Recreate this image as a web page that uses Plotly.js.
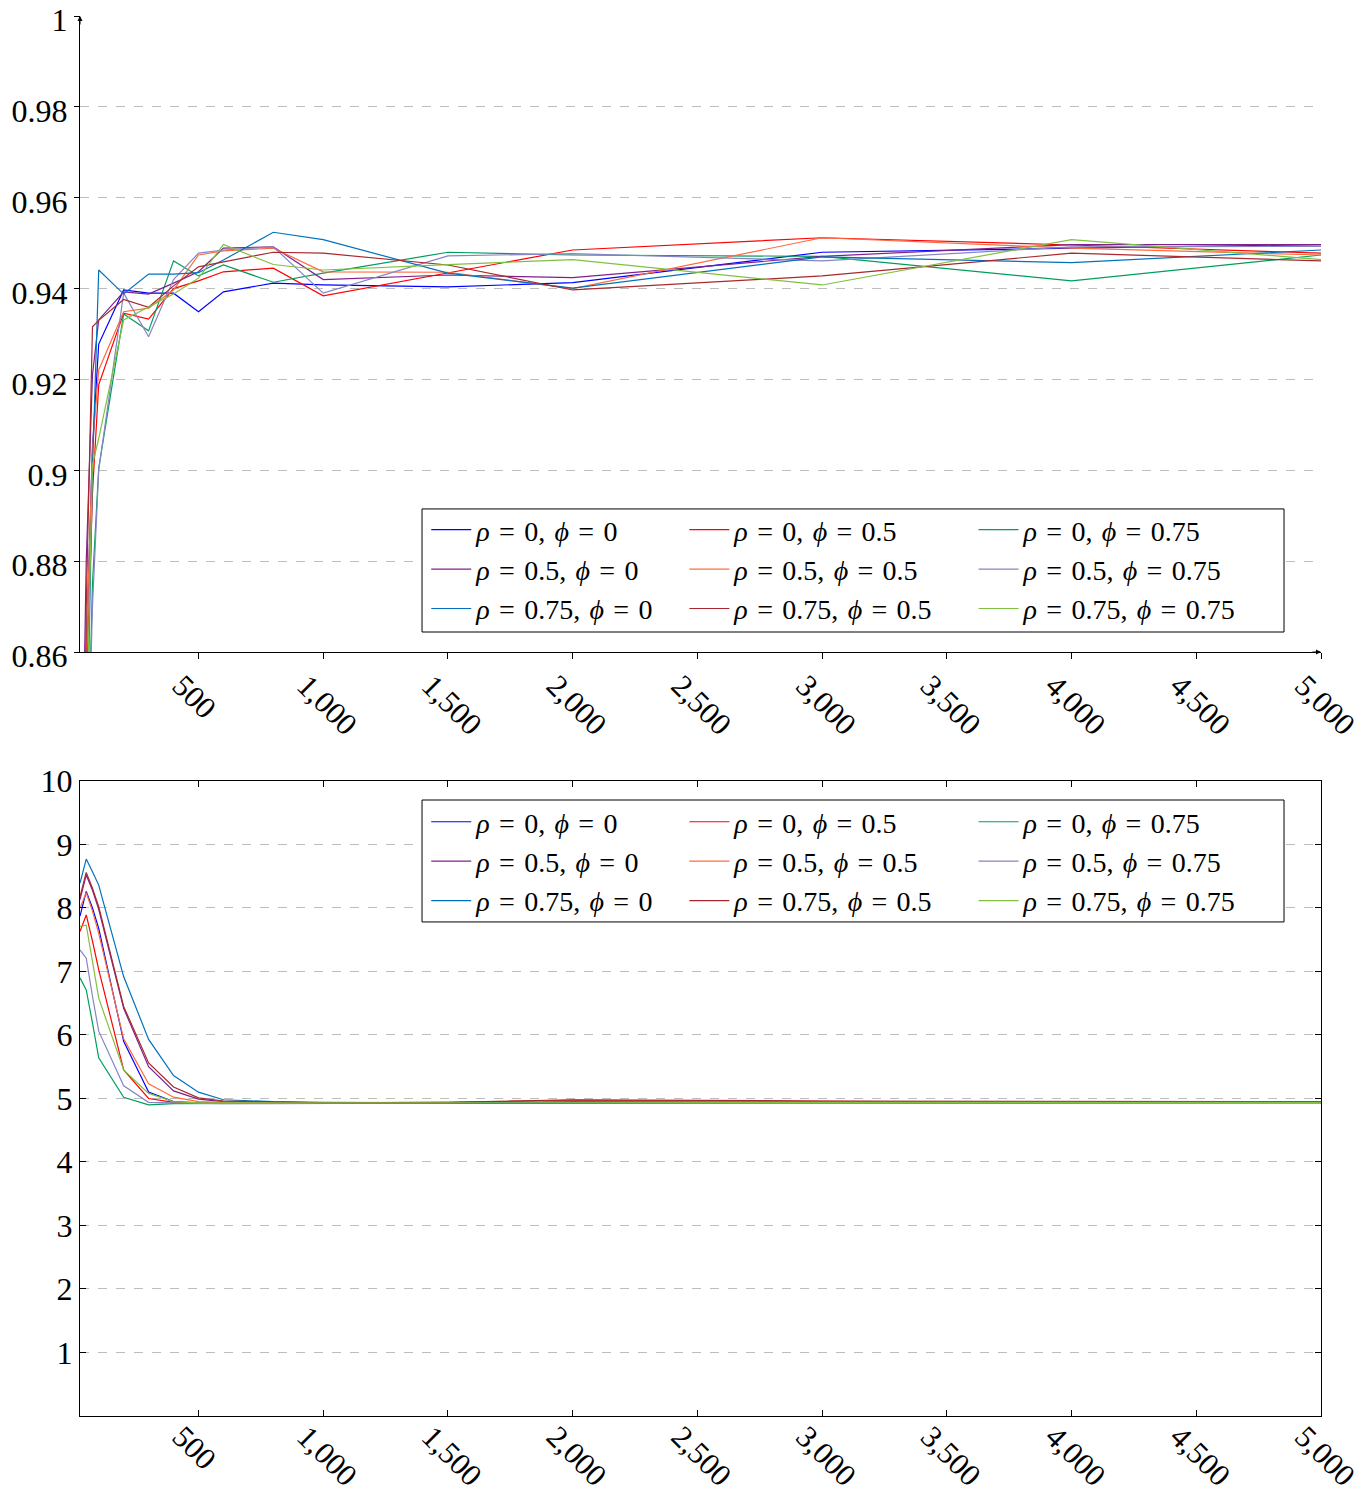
<!DOCTYPE html>
<html><head><meta charset="utf-8">
<script src="https://cdn.plot.ly/plotly-3.0.1.min.js"></script>
<style>body{margin:0;background:#fff}#chart{width:1366px;height:1498px}</style>
</head><body><div id="chart"></div>
<script>
// ---- data ----
const sampleSizes = [25, 50, 75, 100, 200, 300, 400, 500, 600, 800, 1000, 1500, 2000, 3000, 4000, 5000];
const rhoLabels = ['0', '0', '0', '0.5', '0.5', '0.5', '0.75', '0.75', '0.75'];
const phiLabels = ['0', '0.5', '0.75', '0', '0.5', '0.75', '0', '0.5', '0.75'];

// top panel: coverage
const covR0P0     = [0.80, 0.86, 0.905, 0.9278, 0.9397, 0.9390, 0.9390, 0.9349, 0.9393, 0.9412, 0.9408, 0.9404, 0.9413, 0.9480, 0.9489, 0.9497];
const covR0P05    = [0.79, 0.85, 0.895, 0.9188, 0.9346, 0.9333, 0.9400, 0.9417, 0.9437, 0.9445, 0.9384, 0.9434, 0.9485, 0.9512, 0.9496, 0.9478];
const covR0P075   = [0.75, 0.82, 0.875, 0.9005, 0.9344, 0.9307, 0.9461, 0.9428, 0.9452, 0.9414, 0.9434, 0.9480, 0.9474, 0.9471, 0.9417, 0.9474];
const covR05P0    = [0.80, 0.88, 0.921, 0.9331, 0.9393, 0.9388, 0.9412, 0.9437, 0.9489, 0.9492, 0.9420, 0.9430, 0.9424, 0.9471, 0.9497, 0.9497];
const covR05P05   = [0.78, 0.86, 0.905, 0.9221, 0.9349, 0.9357, 0.9397, 0.9474, 0.9483, 0.9489, 0.9437, 0.9436, 0.9400, 0.9512, 0.9489, 0.9474];
const covR05P075  = [0.75, 0.82, 0.870, 0.9000, 0.9390, 0.9294, 0.9420, 0.9478, 0.9485, 0.9492, 0.9390, 0.9472, 0.9477, 0.9461, 0.9492, 0.9493];
const covR075P0   = [0.72, 0.83, 0.900, 0.9441, 0.9388, 0.9432, 0.9432, 0.9435, 0.9463, 0.9524, 0.9508, 0.9434, 0.9401, 0.9470, 0.9457, 0.9485];
const covR075P05  = [0.70, 0.87, 0.9316, 0.9330, 0.9376, 0.9359, 0.9406, 0.9448, 0.9459, 0.9480, 0.9478, 0.9452, 0.9397, 0.9428, 0.9478, 0.9461];
const covR075P075 = [0.72, 0.84, 0.9012, 0.9070, 0.9331, 0.9360, 0.9388, 0.9423, 0.9497, 0.9453, 0.9441, 0.9453, 0.9464, 0.9408, 0.9508, 0.9464];

// bottom panel
const lenR0P0     = [7.87, 8.26, 8.00, 7.68, 5.90, 5.10, 4.95, 4.93, 4.93, 4.93, 4.93, 4.93, 4.95, 4.94, 4.94, 4.94];
const lenR0P05    = [7.63, 7.89, 7.48, 7.03, 5.45, 5.00, 4.94, 4.93, 4.93, 4.93, 4.93, 4.94, 4.97, 4.95, 4.94, 4.94];
const lenR0P075   = [6.90, 6.71, 6.19, 5.64, 5.02, 4.90, 4.92, 4.92, 4.92, 4.92, 4.92, 4.92, 4.93, 4.93, 4.93, 4.93];
const lenR05P0    = [8.13, 8.52, 8.28, 7.98, 6.42, 5.50, 5.12, 4.99, 4.95, 4.94, 4.93, 4.93, 4.96, 4.95, 4.95, 4.95];
const lenR05P05   = [8.00, 8.24, 7.95, 7.60, 5.94, 5.23, 5.02, 4.95, 4.94, 4.93, 4.93, 4.93, 4.96, 4.95, 4.94, 4.94];
const lenR05P075  = [7.34, 7.21, 6.61, 6.06, 5.20, 4.94, 4.93, 4.92, 4.92, 4.92, 4.92, 4.93, 4.94, 4.94, 4.93, 4.93];
const lenR075P0   = [8.39, 8.77, 8.57, 8.36, 6.92, 5.93, 5.36, 5.10, 4.98, 4.95, 4.94, 4.93, 4.94, 4.94, 4.94, 4.94];
const lenR075P05  = [8.18, 8.56, 8.31, 8.02, 6.45, 5.56, 5.18, 5.01, 4.96, 4.94, 4.93, 4.94, 4.98, 4.96, 4.95, 4.95];
const lenR075P075 = [7.71, 7.73, 7.16, 6.58, 5.45, 5.08, 4.95, 4.93, 4.93, 4.93, 4.93, 4.93, 4.94, 4.94, 4.94, 4.94];

const xTickVals = [500, 1000, 1500, 2000, 2500, 3000, 3500, 4000, 4500, 5000];
const xTickText = ['500', '1,000', '1,500', '2,000', '2,500', '3,000', '3,500', '4,000', '4,500', '5,000'];
const yTopTickVals = [0.86, 0.88, 0.90, 0.92, 0.94, 0.96, 0.98, 1.00];
const yTopTickText = ['0.86', '0.88', '0.9', '0.92', '0.94', '0.96', '0.98', '1'];
const yBotTickVals = [1, 2, 3, 4, 5, 6, 7, 8, 9, 10];
const yBotTickText = ['1', '2', '3', '4', '5', '6', '7', '8', '9', '10'];

// ---- styling ----
const colors = ['#0000FF', '#FF0000', '#009E5C', '#80208C', '#FF6A3D', '#8585C5', '#0072BD', '#A8282D', '#80C040'];
const topSeries = [covR0P0, covR0P05, covR0P075, covR05P0, covR05P05, covR05P075, covR075P0, covR075P05, covR075P075];
const botSeries = [lenR0P0, lenR0P05, lenR0P075, lenR05P0, lenR05P05, lenR05P075, lenR075P0, lenR075P05, lenR075P075];
const FONT = 'Liberation Serif, DejaVu Serif, serif';
const EQ = '\u2004=\u2004';
const SP = '\u2004';

function seriesName(i) {
  return `<i>ρ</i>${EQ}${rhoLabels[i]},${SP}<i>ϕ</i>${EQ}${phiLabels[i]}`;
}

const traces = [];
const legendCol = {'0': 0, '0.5': 1, '0.75': 2};
topSeries.forEach((ys, i) => {
  const col = legendCol[phiLabels[i]];
  traces.push({
    x: sampleSizes, y: ys, type: 'scatter', mode: 'lines',
    line: {color: colors[i], width: 1.2},
    name: seriesName(i),
    xaxis: 'x', yaxis: 'y',
    legend: col === 0 ? 'legend' : 'legend' + (col + 1)
  });
});
botSeries.forEach((ys, i) => {
  const col = legendCol[phiLabels[i]];
  traces.push({
    x: sampleSizes, y: ys, type: 'scatter', mode: 'lines',
    line: {color: colors[i], width: 1.2},
    name: seriesName(i),
    xaxis: 'x2', yaxis: 'y2',
    legend: 'legend' + (col + 4)
  });
});

const tickFont = {family: FONT, size: 32, color: '#000'};
const xTickFont = {family: FONT, size: 31, color: '#000'};
const legFont = {family: FONT, size: 28, color: '#000'};
function legendAt(x, y) {
  return {x: x, y: y, xanchor: 'left', yanchor: 'top', orientation: 'v',
    bgcolor: 'rgba(0,0,0,0)', borderwidth: 0, font: legFont, tracegroupgap: 0,
    itemwidth: 40, itemclick: false, itemdoubleclick: false};
}

const xCommon = {
  range: [25, 5000], tickvals: xTickVals, ticktext: xTickText, tickangle: 45,
  tickfont: xTickFont, showgrid: false, zeroline: false, showline: true,
  linecolor: '#000', linewidth: 1, tickcolor: '#000', ticklen: 6,
  ticklabelshift: -17, ticklabeloverflow: 'allow'
};

const layout = {
  width: 1366, height: 1498,
  margin: {l: 80, r: 45, t: 16, b: 82},
  paper_bgcolor: '#fff', plot_bgcolor: '#fff',
  showlegend: true,
  xaxis: Object.assign({}, xCommon, {anchor: 'y', ticks: 'outside', ticklabelstandoff: -4}),
  yaxis: {domain: [0.5457, 1], range: [0.86, 1.00001], tickvals: yTopTickVals, ticktext: yTopTickText,
    tickfont: tickFont, showgrid: true, gridcolor: '#bdbdbd', griddash: 'dash', gridwidth: 1,
    zeroline: false, showline: true, linecolor: '#000', linewidth: 1, ticks: 'outside',
    ticklen: 5, tickcolor: '#000', anchor: 'x', ticklabeloverflow: 'allow', ticklabelshift: 4},
  xaxis2: Object.assign({}, xCommon, {anchor: 'y2', ticks: 'inside', mirror: 'ticks', ticklabelstandoff: -11}),
  yaxis2: {domain: [0, 0.4536], range: [0, 10], tickvals: yBotTickVals, ticktext: yBotTickText,
    tickfont: tickFont, showgrid: true, gridcolor: '#bdbdbd', griddash: 'dash', gridwidth: 1,
    zeroline: false, showline: true, linecolor: '#000', linewidth: 1, ticks: 'inside',
    mirror: 'ticks', ticklen: 6, tickcolor: '#000', anchor: 'x2'},
  legend: legendAt(0.279, 0.6507),
  legend2: legendAt(0.487, 0.6507),
  legend3: legendAt(0.720, 0.6507),
  legend4: legendAt(0.279, 0.4421),
  legend5: legendAt(0.487, 0.4421),
  legend6: legendAt(0.720, 0.4421),
  shapes: [
    {type: 'rect', xref: 'paper', yref: 'paper', x0: 0.2756, x1: 0.9702, y0: 0.56, y1: 0.6479,
      line: {color: '#000', width: 1}, fillcolor: '#fff', layer: 'above'},
    {type: 'rect', xref: 'paper', yref: 'paper', x0: 0.2756, x1: 0.9702, y0: 0.3529, y1: 0.44,
      line: {color: '#000', width: 1}, fillcolor: '#fff', layer: 'above'}
  ],
  annotations: [
    {xref: 'x domain', yref: 'y domain', x: 1, y: 0, ax: -10, ay: 0, text: '', showarrow: true,
      arrowhead: 2, arrowsize: 1, arrowwidth: 1, arrowcolor: '#000'},
    {xref: 'x domain', yref: 'y domain', x: 0, y: 1, ax: 0, ay: 10, text: '', showarrow: true,
      arrowhead: 2, arrowsize: 1, arrowwidth: 1, arrowcolor: '#000'}
  ]
};

Plotly.newPlot('chart', traces, layout, {displayModeBar: false, staticPlot: true});
</script>
</body></html>
